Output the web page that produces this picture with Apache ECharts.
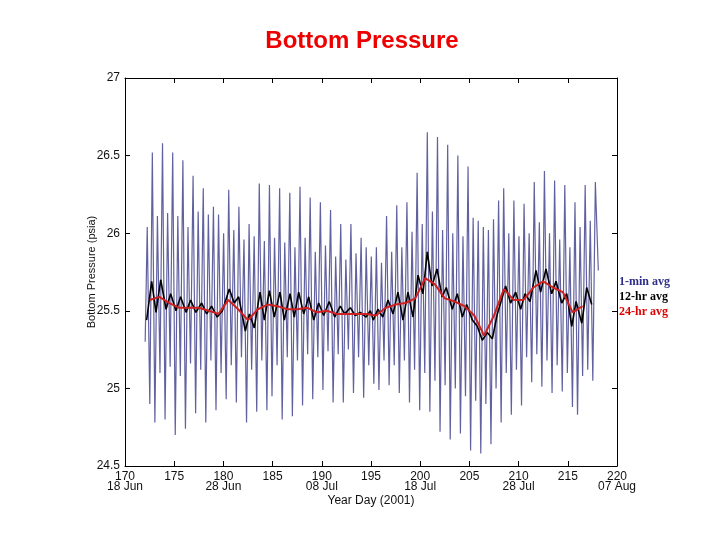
<!DOCTYPE html>
<html lang="en">
<head>
    <meta charset="UTF-8">
    <title>Bottom Pressure</title>
    <script type="text/javascript" src="https://cdn.jsdelivr.net/npm/echarts@6/dist/echarts.min.js"></script>
    <style>
        body { margin: 0; background: #fff; overflow: hidden; }
    </style>
</head>
<body>
<div style="width: 720px; height: 540px" id="container"></div>
<script>
    // tick labels of the year-day axis (second line = calendar date)
    let dayTicks = [170, 175, 180, 185, 190, 195, 200, 205, 210, 215, 220];
    let dayDates = {170: '18 Jun', 180: '28 Jun', 190: '08 Jul', 200: '18 Jul', 210: '28 Jul', 220: '07 Aug'};

    // 1-min record: alternating tide highs and lows, half a lunar day apart
    let tideStart = 172.26;
    let tideHalf = 0.5175;
    let tideFirst = [172.05, 25.30];
    let tideLast = [218.1, 25.76];
    let highs = [26.04, 26.52, 26.11, 26.58, 26.13, 26.52, 26.11, 26.47, 26.04, 26.37,
        26.14, 26.29, 26.12, 26.17, 26.12, 26.00, 26.28, 26.02, 26.17, 25.96,
        26.06, 25.98, 26.32, 25.95, 26.31, 25.97, 26.29, 25.94, 26.26, 25.91,
        26.30, 25.97, 26.23, 25.88, 26.20, 25.92, 26.15, 25.85, 26.06, 25.83,
        26.06, 25.87, 25.97, 25.91, 25.85, 25.91, 25.81, 26.11, 25.88, 26.18,
        25.91, 26.20, 26.01, 26.39, 26.06, 26.65, 26.14, 26.62, 26.02, 26.57,
        26.00, 26.50, 25.98, 26.43, 26.10, 26.08, 26.04, 26.02, 26.09, 26.21,
        26.29, 26.00, 26.21, 25.98, 26.19, 26.00, 26.33, 26.07, 26.40, 26.00,
        26.34, 25.96, 26.31, 25.91, 26.20, 26.04, 26.31, 26.08, 26.33];
    let lows = [24.90, 24.78, 25.10, 24.80, 25.14, 24.70, 25.08, 24.74, 25.16, 24.84,
        25.12, 24.78, 25.18, 24.86, 25.10, 24.93, 25.15, 24.91, 25.20, 24.78,
        25.12, 24.85, 25.18, 24.86, 24.95, 25.15, 24.80, 25.20, 24.82, 25.18,
        24.89, 25.22, 24.93, 25.20, 24.99, 25.24, 24.91, 25.22, 24.91, 25.25,
        24.97, 25.20, 24.94, 25.15, 25.03, 24.99, 25.18, 25.02, 25.15, 24.97,
        25.18, 24.91, 25.12, 24.86, 25.10, 24.85, 25.05, 24.72, 25.02, 24.67,
        25.00, 24.71, 24.95, 24.60, 24.92, 24.58, 24.90, 24.64, 25.00, 24.78,
        25.10, 24.83, 25.12, 24.89, 25.20, 25.04, 25.22, 25.01, 25.18, 24.97,
        25.15, 24.98, 25.10, 24.88, 24.83, 25.08, 25.12, 25.05];

    // 12-hr average
    let avg12Day = [172.2, 172.71, 173.15, 173.63, 174.17, 174.64, 175.18, 175.65, 176.2, 176.67,
        177.2, 177.79, 178.3, 178.8, 179.37, 179.9, 180.6, 181.1, 181.55, 182.23,
        182.64, 183.14, 183.72, 184.16, 184.67, 185.17, 185.75, 186.19, 186.77, 187.2,
        187.65, 188.16, 188.67, 189.18, 189.68, 190.19, 190.76, 191.31, 191.88, 192.32,
        192.9, 193.4, 193.91, 194.5, 194.93, 195.23, 195.7, 196.2, 196.73, 197.24,
        197.74, 198.25, 198.76, 199.27, 199.78, 200.28, 200.72, 201.2, 201.71, 202.22,
        202.65, 203.26, 203.77, 204.28, 204.72, 205.3, 205.8, 206.31, 206.82, 207.33,
        207.84, 208.68, 209.19, 209.7, 210.21, 210.65, 211.16, 211.77, 212.24, 212.78,
        213.36, 213.8, 214.38, 214.89, 215.4, 215.84, 216.42, 216.92, 217.43];
    let avg12Val = [25.44, 25.69, 25.49, 25.70, 25.51, 25.61, 25.50, 25.59, 25.49, 25.57,
        25.49, 25.55, 25.48, 25.53, 25.46, 25.50, 25.64, 25.55, 25.59, 25.37,
        25.48, 25.39, 25.62, 25.44, 25.63, 25.46, 25.62, 25.44, 25.61, 25.46,
        25.62, 25.48, 25.59, 25.44, 25.55, 25.47, 25.56, 25.46, 25.53, 25.48,
        25.52, 25.47, 25.49, 25.46, 25.50, 25.44, 25.51, 25.46, 25.57, 25.48,
        25.62, 25.44, 25.62, 25.46, 25.73, 25.61, 25.88, 25.66, 25.77, 25.59,
        25.65, 25.51, 25.61, 25.46, 25.54, 25.44, 25.40, 25.31, 25.36, 25.32,
        25.48, 25.66, 25.55, 25.62, 25.51, 25.61, 25.56, 25.76, 25.62, 25.77,
        25.61, 25.69, 25.55, 25.61, 25.40, 25.56, 25.42, 25.65, 25.54];

    // 24-hr average, one value per day from 172.5
    let avg24Day = [172.5, 173.5, 174.5, 175.5, 176.5, 177.5, 178.5, 179.5, 180.5, 181.5,
        182.5, 183.5, 184.5, 185.5, 186.5, 187.5, 188.5, 189.5, 190.5, 191.5,
        192.5, 193.5, 194.5, 195.5, 196.5, 197.5, 198.5, 199.5, 200.5, 201.5,
        202.5, 203.5, 204.5, 205.5, 206.5, 207.5, 208.5, 209.5, 210.5, 211.5,
        212.5, 213.5, 214.5, 215.5, 216.5];
    let avg24Val = [25.57, 25.59, 25.55, 25.52, 25.52, 25.52, 25.50, 25.48, 25.57, 25.51,
        25.44, 25.51, 25.54, 25.53, 25.51, 25.51, 25.52, 25.49, 25.50, 25.48,
        25.48, 25.48, 25.48, 25.47, 25.52, 25.54, 25.55, 25.58, 25.71, 25.67,
        25.58, 25.56, 25.53, 25.47, 25.34, 25.47, 25.64, 25.57, 25.57, 25.65,
        25.69, 25.65, 25.62, 25.49, 25.53];

    let names = ['1-min avg', '12-hr avg', '24-hr avg'];
    let colors = ['#45458f', '#000000', '#d02020'];

    let tideData = [tideFirst];
    for (let i = 0; i < highs.length; i++) {
        tideData.push([tideStart + i * tideHalf, highs[i]]);
        if (i < lows.length) tideData.push([tideStart + i * tideHalf + tideHalf / 2, lows[i]]);
    }
    tideData.push(tideLast);
    let avg12Data = avg12Day.map((d, i) => [d, avg12Val[i]]);
    let avg24Data = avg24Day.map((d, i) => [d, avg24Val[i]]);

    let labelFont = {fontFamily: 'Liberation Sans, Arial, sans-serif', fontSize: 12, color: '#111'};

    var myChart = echarts.init(document.getElementById('container'));
    var option = {
        animation: false,
        backgroundColor: '#fff',
        title: {
            text: 'Bottom Pressure',
            left: 357,
            top: 24,
            textAlign: 'center',
            textStyle: {
                color: '#ee0000',
                fontSize: 24,
                fontWeight: 'bold',
                fontFamily: 'Liberation Sans, Arial, sans-serif'
            }
        },
        legend: {
            orient: 'vertical',
            left: 613,
            top: 271,
            itemGap: 3,
            itemWidth: 0,
            itemHeight: 12,
            icon: 'none',
            selectedMode: false,
            data: names.map((n, i) => ({
                name: n,
                textStyle: {
                    color: i === 0 ? '#2e2e88' : (i === 1 ? '#000' : '#dd0000'),
                    fontFamily: 'Liberation Serif, Times New Roman, serif',
                    fontWeight: 'bold',
                    fontSize: 12,
                    padding: [0, 0, 0, -4]
                }
            }))
        },
        grid: {left: 125, right: 103, top: 78, bottom: 74},
        xAxis: [{
            type: 'value',
            min: 170,
            max: 220,
            interval: 5,
            name: 'Year Day (2001)',
            nameLocation: 'middle',
            nameGap: 29,
            nameMoveOverlap: false,
            nameTextStyle: labelFont,
            axisLine: {lineStyle: {color: '#000', width: 1}},
            axisTick: {inside: true, length: 5, lineStyle: {color: '#000'}},
            splitLine: {show: false},
            axisLabel: Object.assign({
                margin: 6,
                lineHeight: 10,
                formatter: v => dayDates[v] ? v + '\n' + dayDates[v] : '' + v
            }, labelFont)
        }, {
            type: 'value',
            position: 'top',
            min: 170,
            max: 220,
            interval: 5,
            axisLine: {show: true, onZero: false, lineStyle: {color: '#000', width: 1}},
            axisTick: {show: true, inside: true, length: 5, lineStyle: {color: '#000'}},
            axisLabel: {show: false},
            splitLine: {show: false}
        }],
        yAxis: [{
            type: 'value',
            min: 24.5,
            max: 27,
            interval: 0.5,
            name: 'Bottom Pressure (psia)',
            nameLocation: 'middle',
            nameGap: 33,
            nameMoveOverlap: false,
            nameTextStyle: Object.assign({}, labelFont, {fontSize: 11, verticalAlign: 'middle'}),
            axisLine: {show: true, lineStyle: {color: '#000', width: 1}},
            axisTick: {show: true, inside: true, length: 5, lineStyle: {color: '#000'}},
            splitLine: {show: false},
            axisLabel: Object.assign({margin: 5}, labelFont)
        }, {
            type: 'value',
            position: 'right',
            min: 24.5,
            max: 27,
            interval: 0.5,
            axisLine: {show: true, onZero: false, lineStyle: {color: '#000', width: 1}},
            axisTick: {show: true, inside: true, length: 5, lineStyle: {color: '#000'}},
            axisLabel: {show: false},
            splitLine: {show: false}
        }],
        series: [{
            name: names[0],
            type: 'line',
            data: tideData,
            showSymbol: false,
            symbol: 'none',
            lineStyle: {color: colors[0], width: 1.2, opacity: 0.85},
            itemStyle: {color: colors[0]}
        }, {
            name: names[1],
            type: 'line',
            data: avg12Data,
            showSymbol: false,
            symbol: 'none',
            lineStyle: {color: colors[1], width: 1.6},
            itemStyle: {color: colors[1]}
        }, {
            name: names[2],
            type: 'line',
            data: avg24Data,
            showSymbol: false,
            symbol: 'none',
            lineStyle: {color: colors[2], width: 2},
            itemStyle: {color: colors[2]}
        }]
    };
    myChart.setOption(option);
</script>
</body>
</html>
